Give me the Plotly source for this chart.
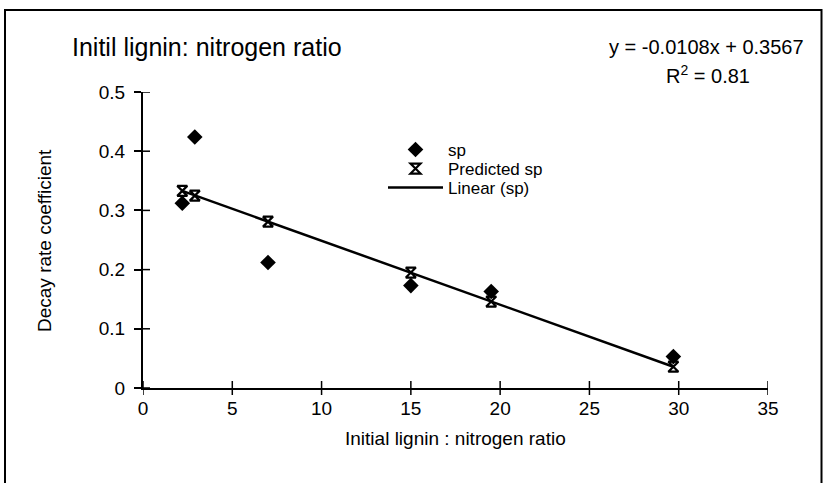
import plotly.graph_objects as go

# Observed decay rate coefficients vs. initial lignin:nitrogen ratio
ratio = [2.2, 2.9, 7.0, 15.0, 19.5, 29.7]
sp = [0.312, 0.424, 0.212, 0.173, 0.163, 0.053]
predicted_sp = [0.333, 0.325, 0.281, 0.195, 0.146, 0.036]

# Linear trendline fitted to sp
slope = -0.0108
intercept = 0.3567
r_squared = 0.81

x_ticks = [0, 5, 10, 15, 20, 25, 30, 35]
y_ticks = [0, 0.1, 0.2, 0.3, 0.4, 0.5]
y_tick_text = ["0", "0.1", "0.2", "0.3", "0.4", "0.5"]

FONT = "Liberation Sans, Arial, sans-serif"
W, H = 823, 483
ML, MR, MT, MB = 143, 55, 92, 95
PW, PH = W - ML - MR, H - MT - MB


def px_x(p):
    return (p - ML) / PW


def px_y(p):
    return (H - MB - p) / PH


trend_x = [min(ratio), max(ratio)]
trend_y = [slope * v + intercept for v in trend_x]

fig = go.Figure()
fig.add_trace(go.Scatter(
    x=ratio, y=sp, mode="markers", name="sp", legend="legend",
    marker=dict(symbol="diamond", size=12, color="black"),
))
fig.add_trace(go.Scatter(
    x=ratio, y=predicted_sp, mode="markers", name="Predicted sp", legend="legend2",
    marker=dict(symbol="hourglass-open", size=10, color="black",
                line=dict(color="black", width=2.2)),
))
fig.add_trace(go.Scatter(
    x=trend_x, y=trend_y, mode="lines", name="Linear (sp)", legend="legend3",
    line=dict(color="black", width=2.5),
))

# crossing tick marks
TL = 7
shapes = []
for v in x_ticks:
    shapes.append(dict(type="line", xref="x", yref="paper", x0=v, x1=v,
                       y0=-TL / PH, y1=TL / PH, line=dict(color="black", width=1.5)))
for v in y_ticks:
    shapes.append(dict(type="line", xref="paper", yref="y", x0=0, x1=TL / PW,
                       y0=v, y1=v, line=dict(color="black", width=1.5)))
# outer frame of the chart area
shapes.append(dict(type="rect", xref="paper", yref="paper",
                   x0=px_x(5), x1=px_x(821.5), y0=px_y(10), y1=px_y(500),
                   line=dict(color="black", width=2), fillcolor="rgba(0,0,0,0)"))

annotations = [
    dict(text="Initil lignin: nitrogen ratio", xref="paper", yref="paper",
         x=px_x(70), y=px_y(47), xanchor="left", yanchor="middle",
         showarrow=False, font=dict(size=25, color="black", family=FONT)),
    dict(text=f"y = {slope}x + {intercept}", xref="paper", yref="paper",
         x=px_x(706), y=px_y(47), xanchor="center", yanchor="middle",
         showarrow=False, font=dict(size=20, color="black", family=FONT)),
    dict(text=f"R<sup>2</sup> = {r_squared}", xref="paper", yref="paper",
         x=px_x(708), y=px_y(74), xanchor="center", yanchor="middle",
         showarrow=False, font=dict(size=20, color="black", family=FONT)),
    dict(text="Initial lignin : nitrogen ratio", xref="paper", yref="paper",
         x=0.5, y=px_y(438), xanchor="center", yanchor="middle",
         showarrow=False, font=dict(size=19, color="black", family=FONT)),
    dict(text="Decay rate coefficient", xref="paper", yref="paper",
         x=px_x(44), y=px_y(240), xanchor="center", yanchor="middle", textangle=-90,
         showarrow=False, font=dict(size=19, color="black", family=FONT)),
]


def legend_row(center_y):
    return dict(x=px_x(383), y=px_y(center_y), xanchor="left", yanchor="middle",
                bgcolor="rgba(0,0,0,0)", font=dict(size=17, family=FONT),
                itemwidth=55)


fig.update_layout(
    width=W, height=H,
    margin=dict(l=ML, r=MR, t=MT, b=MB),
    paper_bgcolor="white", plot_bgcolor="white",
    font=dict(family=FONT, size=18, color="black"),
    showlegend=True,
    legend=legend_row(150),
    legend2=legend_row(169),
    legend3=legend_row(188),
    xaxis=dict(range=[0, 35], tickvals=x_ticks, ticks="", showline=True,
               linecolor="black", linewidth=2, showgrid=False, zeroline=False,
               ticklabelstandoff=2, tickfont=dict(size=19, family=FONT)),
    yaxis=dict(range=[0, 0.5], tickvals=y_ticks, ticktext=y_tick_text,
               ticks="outside", ticklen=TL, tickwidth=1.5, tickcolor="black",
               showline=True, linecolor="black", linewidth=2, showgrid=False,
               zeroline=False, ticklabelstandoff=5,
               tickfont=dict(size=19, family=FONT)),
    shapes=shapes,
    annotations=annotations,
)

fig.write_html("out.html")
